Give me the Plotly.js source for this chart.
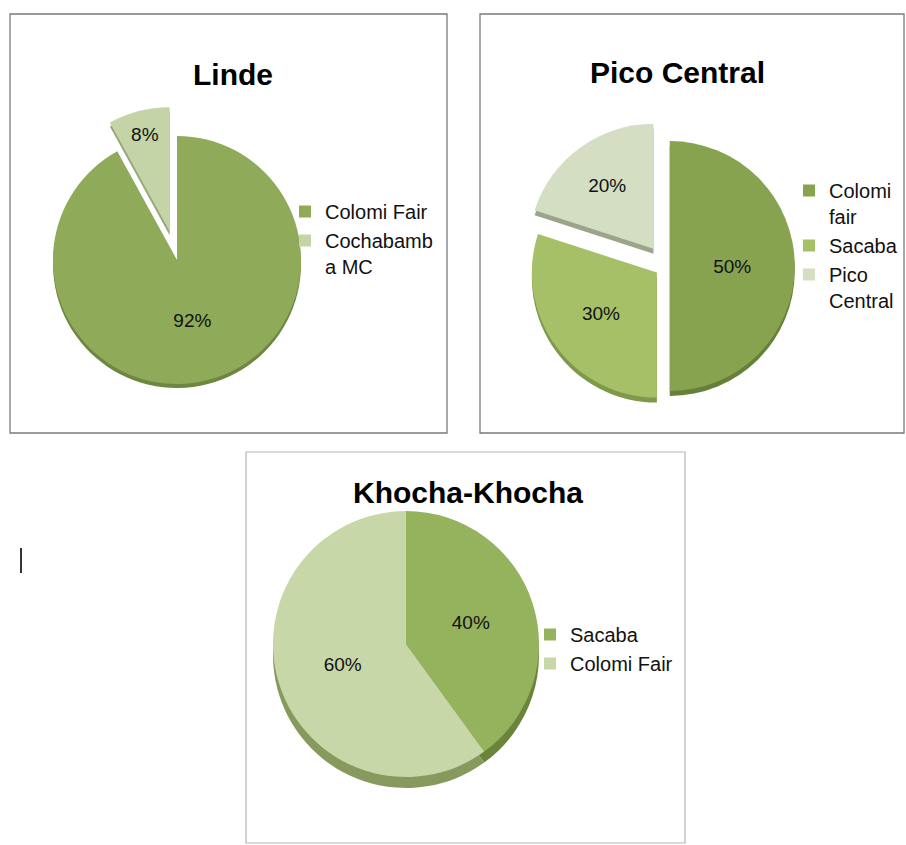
<!DOCTYPE html>
<html>
<head>
<meta charset="utf-8">
<script src="https://cdn.plot.ly/plotly-3.0.1.min.js"></script>
<style>
  html, body { margin: 0; padding: 0; background: #ffffff; }
  #chart { width: 906px; height: 845px; }
</style>
</head>
<body>
<div id="chart"></div>
<script>
// ---------- Data ----------
const lindeTitle = "Linde";
const lindeCategories = ["Colomi Fair", "Cochabamba MC"];
const lindeLegendLabels = ["Colomi Fair", "Cochabamb<br>a MC"];
const lindeValues = [92, 8];

const picoTitle = "Pico Central";
const picoCategories = ["Colomi fair", "Sacaba", "Pico Central"];
const picoLegendLabels = ["Colomi<br>fair", "Sacaba", "Pico<br>Central"];
const picoValues = [50, 30, 20];

const khochaTitle = "Khocha-Khocha";
const khochaCategories = ["Sacaba", "Colomi Fair"];
const khochaLegendLabels = ["Sacaba", "Colomi Fair"];
const khochaValues = [40, 60];

// ---------- Layout helpers ----------
const W = 906, H = 845;
const FONT = "Liberation Sans, Arial, Helvetica, sans-serif";
const px = x => x / W;
const py = y => 1 - y / H;
function dom(cx, cy, half) {
  return { x: [px(cx - half), px(cx + half)], y: [py(cy + half), py(cy - half)] };
}

const labelFont = { family: FONT, size: 19, color: "#111111" };

// geometry (positions only)
const lindeGeo = { cx: 177, cy: 260, r: 124, pull: [0, 0.24] };
const picoGeo = { cx: 666, cy: 266, r: 125, pull: [0.03, 0.09, 0.17] };
const khochaGeo = { cx: 406, cy: 644, r: 133, pull: [0, 0] };

function pieTrace(labels, values, cats, geo, colors, legendId, group, dy, isShadow) {
  const maxPull = Math.max.apply(null, geo.pull);
  const t = {
    type: "pie",
    labels: labels,
    values: values,
    customdata: cats,
    sort: false,
    direction: "clockwise",
    rotation: 0,
    pull: geo.pull,
    marker: { colors: colors, line: { width: 0 } },
    hoverinfo: "skip",
    domain: dom(geo.cx, geo.cy + (dy || 0), geo.r * (1 + maxPull)),
    legend: legendId,
    legendgroup: group
  };
  if (isShadow) {
    t.textinfo = "none";
    t.showlegend = false;
  } else {
    t.textinfo = "percent";
    t.textposition = "inside";
    t.insidetextorientation = "horizontal";
    t.insidetextfont = labelFont;
  }
  return t;
}

const traces = [
  // darker "side" of each pie (3-D edge look), drawn first so it sits below
  pieTrace(lindeLegendLabels, lindeValues, lindeCategories, lindeGeo,
    ["#6d8640", "#97a77c"], "legend", "linde", 4, true),
  pieTrace(picoLegendLabels, picoValues, picoCategories, picoGeo,
    ["#66803a", "#7f984a", "#9aa58a"], "legend2", "pico", 5, true),
  pieTrace(khochaLegendLabels, khochaValues, khochaCategories, khochaGeo,
    ["#6b843c", "#879a5e"], "legend3", "khocha", 11, true),
  // top faces
  pieTrace(lindeLegendLabels, lindeValues, lindeCategories, lindeGeo,
    ["#8faa58", "#c4d4a7"], "legend", "linde", 0, false),
  pieTrace(picoLegendLabels, picoValues, picoCategories, picoGeo,
    ["#88a34f", "#a5c066", "#d3dec3"], "legend2", "pico", 0, false),
  pieTrace(khochaLegendLabels, khochaValues, khochaCategories, khochaGeo,
    ["#95b25d", "#c7d7a7"], "legend3", "khocha", 0, false)
];

const legendBase = {
  font: { family: FONT, size: 20, color: "#111111" },
  bgcolor: "rgba(0,0,0,0)",
  borderwidth: 0,
  xanchor: "left",
  yanchor: "top",
  valign: "top",
  itemclick: false,
  itemdoubleclick: false
};

const titleFont = { family: FONT, size: 30, color: "#000000" };

const layout = {
  width: W,
  height: H,
  margin: { l: 0, r: 0, t: 0, b: 0, pad: 0 },
  paper_bgcolor: "#ffffff",
  plot_bgcolor: "#ffffff",
  showlegend: true,
  legend: Object.assign({}, legendBase, { x: px(285), y: py(192) }),
  legend2: Object.assign({}, legendBase, { x: px(789), y: py(171) }),
  legend3: Object.assign({}, legendBase, { x: px(530), y: py(615) }),
  annotations: [
    { text: "<b>" + lindeTitle + "</b>", x: px(233), y: py(74), xref: "paper", yref: "paper",
      showarrow: false, xanchor: "center", yanchor: "middle", font: titleFont },
    { text: "<b>" + picoTitle + "</b>", x: px(677), y: py(73), xref: "paper", yref: "paper",
      showarrow: false, xanchor: "center", yanchor: "middle", font: titleFont },
    { text: "<b>" + khochaTitle + "</b>", x: px(468), y: py(493), xref: "paper", yref: "paper",
      showarrow: false, xanchor: "center", yanchor: "middle", font: titleFont }
  ],
  shapes: [
    { type: "rect", xref: "paper", yref: "paper", x0: px(10), x1: px(447), y0: py(433), y1: py(14),
      line: { color: "#7a7a7a", width: 1.3 }, fillcolor: "rgba(0,0,0,0)", layer: "below" },
    { type: "rect", xref: "paper", yref: "paper", x0: px(480), x1: px(904), y0: py(433), y1: py(14),
      line: { color: "#7a7a7a", width: 1.3 }, fillcolor: "rgba(0,0,0,0)", layer: "below" },
    { type: "rect", xref: "paper", yref: "paper", x0: px(246), x1: px(685), y0: py(843), y1: py(452),
      line: { color: "#b5b5b5", width: 1.2 }, fillcolor: "rgba(0,0,0,0)", layer: "below" },
    { type: "line", xref: "paper", yref: "paper", x0: px(21), x1: px(21), y0: py(573), y1: py(548),
      line: { color: "#333333", width: 2 } }
  ]
};

Plotly.newPlot("chart", traces, layout, { displayModeBar: false, staticPlot: true });
</script>
</body>
</html>
